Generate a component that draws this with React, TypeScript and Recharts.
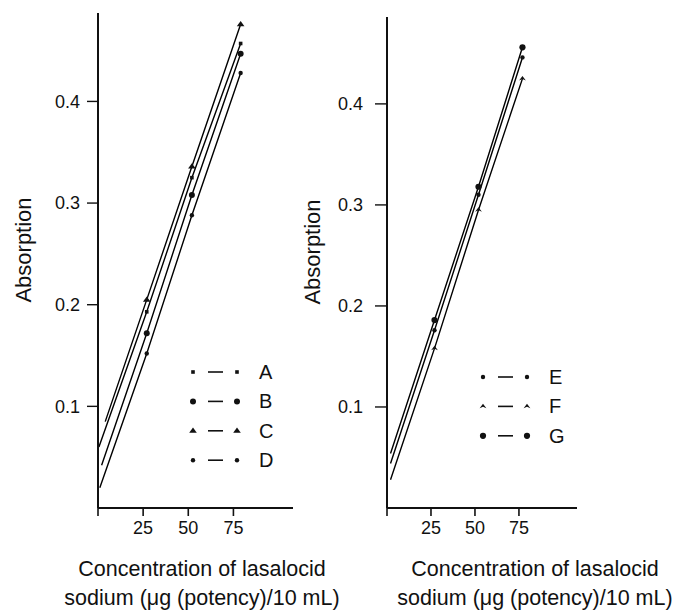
import { LineChart, Line, XAxis, YAxis, Legend } from 'recharts'

// shared ticks
const yTicks = [0.1, 0.2, 0.3, 0.4]
const xTicks = [0, 25, 50, 75]

// left panel (A–D): concentration / absorption
const concA = [0.5, 27, 52, 79]
const absA = [0.06, 0.193, 0.325, 0.457]
const concB = [2, 27, 52, 79]
const absB = [0.042, 0.172, 0.308, 0.447]
const concC = [4, 27, 52, 79]
const absC = [0.085, 0.205, 0.336, 0.476]
const concD = [1, 27, 52, 79]
const absD = [0.02, 0.152, 0.288, 0.428]

// right panel (E–G)
const concE = [2, 27, 52, 77]
const absE = [0.044, 0.176, 0.31, 0.446]
const concF = [2, 27, 52, 77]
const absF = [0.028, 0.158, 0.295, 0.425]
const concG = [2, 27, 52, 77]
const absG = [0.054, 0.186, 0.318, 0.456]

type Kind = 'square' | 'circle' | 'triangle' | 'dot' | 'caret' | 'bigdot'

interface Series {
  name: string
  marker: Kind
  data: { conc: number; abs: number }[]
}

const mk = (name: string, marker: Kind, xs: number[], ys: number[]): Series => ({
  name,
  marker,
  data: xs.map((c, i) => ({ conc: c, abs: ys[i] })),
})

const leftSeries = [
  mk('A', 'square', concA, absA),
  mk('B', 'circle', concB, absB),
  mk('C', 'triangle', concC, absC),
  mk('D', 'dot', concD, absD),
]
const rightSeries = [
  mk('E', 'dot', concE, absE),
  mk('F', 'caret', concF, absF),
  mk('G', 'bigdot', concG, absG),
]

const INK = '#111'
const FONT = '"Liberation Sans", Arial, sans-serif'

function Marker({ kind, cx, cy }: { kind: Kind; cx: number; cy: number }) {
  switch (kind) {
    case 'square':
      return <rect x={cx - 1.8} y={cy - 1.8} width={3.6} height={3.6} fill={INK} />
    case 'circle':
      return <circle cx={cx} cy={cy} r={3} fill={INK} />
    case 'bigdot':
      return <circle cx={cx} cy={cy} r={3.1} fill={INK} />
    case 'dot':
      return <circle cx={cx} cy={cy} r={2.2} fill={INK} />
    case 'triangle':
      return <path d={`M${cx},${cy - 3.2}L${cx + 3.8},${cy + 2}L${cx - 3.8},${cy + 2}Z`} fill={INK} />
    case 'caret':
      return <path d={`M${cx},${cy - 2.6}L${cx + 3.4},${cy + 1.8}L${cx},${cy + 0.4}L${cx - 3.4},${cy + 1.8}Z`} fill={INK} />
  }
}

function PanelLegend({ items }: { items: Series[] }) {
  return (
    <svg width={100} height={items.length * 29.4 + 8} style={{ display: 'block', overflow: 'visible' }}>
      {items.map((s, i) => {
        const cy = 12 + i * 29.4
        return (
          <g key={s.name}>
            <Marker kind={s.marker} cx={6} cy={cy} />
            <line x1={21} x2={36} y1={cy} y2={cy} stroke={INK} strokeWidth={1.6} />
            <Marker kind={s.marker} cx={50} cy={cy} />
            <text x={72} y={cy + 7} fontSize={20} fill={INK} fontFamily={FONT}>
              {s.name}
            </text>
          </g>
        )
      })}
    </svg>
  )
}

const yTitle = (x: number, y: number) => () => (
  <text
    transform={`translate(${x},${y}) rotate(-90)`}
    textAnchor="middle"
    dominantBaseline="central"
    fontSize={22}
    fill={INK}
    fontFamily={FONT}
  >
    Absorption
  </text>
)

const xTitle = (x: number) => () => (
  <text textAnchor="middle" fontSize={21.5} fill={INK} fontFamily={FONT}>
    <tspan x={x} y={576}>Concentration of lasalocid</tspan>
    <tspan x={x} y={605}>sodium (μg (potency)/10 mL)</tspan>
  </text>
)

interface PanelProps {
  series: Series[]
  width: number
  top: number
  yWidth: number
  right: number
  yMax: number
  tickLen: number
  tickGap: number
  yTitleX: number
  yTitleY: number
  xTitleX: number
  legendLeft: number
  legendTop: number
}

function Panel(p: PanelProps) {
  return (
    <LineChart width={p.width} height={612} margin={{ top: p.top, right: p.right, bottom: 0, left: 0 }}>
      <XAxis
        type="number"
        dataKey="conc"
        domain={[0, 108]}
        ticks={xTicks}
        allowDataOverflow
        height={104}
        tickSize={8}
        tickMargin={5}
        tickFormatter={(v: number) => (v === 0 ? '' : String(v))}
        tick={{ fontSize: 18, fill: INK }}
        axisLine={{ stroke: INK, strokeWidth: 2 }}
        tickLine={{ stroke: INK, strokeWidth: 1.6 }}
        label={{ content: xTitle(p.xTitleX) }}
      />
      <YAxis
        type="number"
        dataKey="abs"
        domain={[0, p.yMax]}
        ticks={yTicks}
        allowDataOverflow
        width={p.yWidth}
        tickSize={p.tickLen}
        tickMargin={p.tickGap}
        tick={{ fontSize: 18, fill: INK }}
        axisLine={{ stroke: INK, strokeWidth: 2 }}
        tickLine={{ stroke: INK, strokeWidth: 1.4 }}
        label={{ content: yTitle(p.yTitleX, p.yTitleY) }}
      />
      <Legend
        layout="vertical"
        align="center"
        verticalAlign="middle"
        wrapperStyle={{ left: p.legendLeft, top: p.legendTop, width: 100 }}
        content={() => <PanelLegend items={p.series} />}
      />
      {p.series.map((s) => (
        <Line
          key={s.name}
          data={s.data}
          dataKey="abs"
          name={s.name}
          type="linear"
          stroke="#000"
          strokeWidth={1.4}
          isAnimationActive={false}
          activeDot={false}
          dot={(d: any) =>
            d.index === 0 ? (
              <g key={`${s.name}-${d.index}`} />
            ) : (
              <g key={`${s.name}-${d.index}`}>
                <Marker kind={s.marker} cx={d.cx} cy={d.cy} />
              </g>
            )
          }
        />
      ))}
    </LineChart>
  )
}

export default function App() {
  return (
    <div
      style={{
        position: 'absolute',
        left: 0,
        top: 0,
        width: 677,
        height: 612,
        background: '#fff',
        fontFamily: FONT,
      }}
    >
      <div style={{ position: 'absolute', left: 0, top: 0 }}>
        <Panel
          series={leftSeries}
          width={348}
          top={13}
          yWidth={98}
          right={55}
          yMax={0.487}
          tickLen={11}
          tickGap={7}
          yTitleX={23}
          yTitleY={250}
          xTitleX={202}
          legendLeft={187}
          legendTop={360}
        />
      </div>
      <div style={{ position: 'absolute', left: 300, top: 0 }}>
        <Panel
          series={rightSeries}
          width={377}
          top={17}
          yWidth={87}
          right={100}
          yMax={0.486}
          tickLen={12}
          tickGap={12}
          yTitleX={12}
          yTitleY={252}
          xTitleX={235}
          legendLeft={177}
          legendTop={365}
        />
      </div>
    </div>
  )
}
